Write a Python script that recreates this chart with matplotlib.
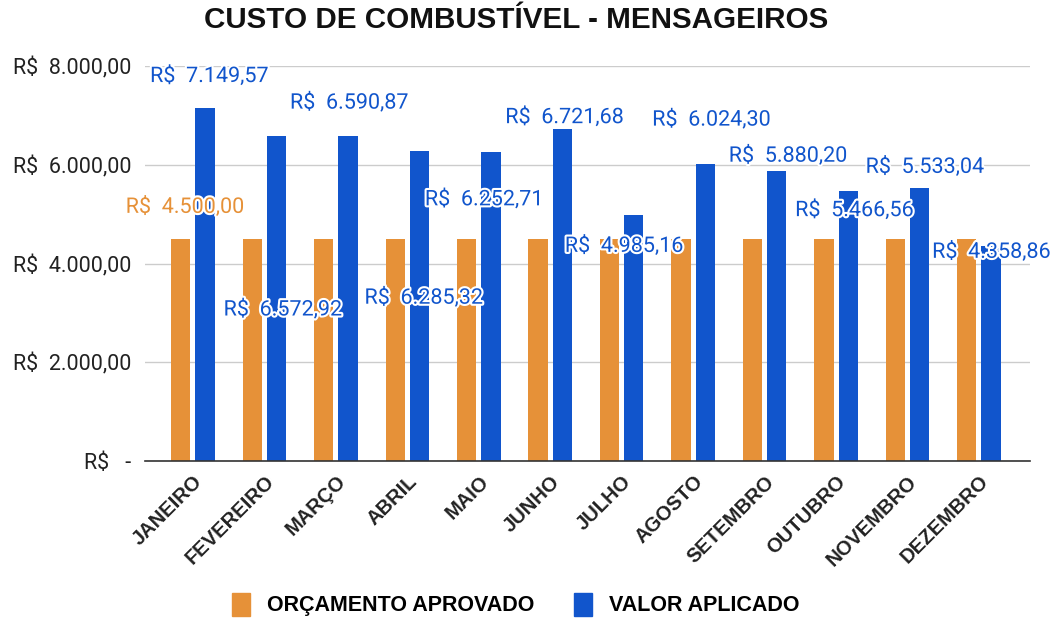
import numpy as np
import matplotlib.pyplot as plt
import matplotlib.patheffects as pe
from matplotlib.ticker import FuncFormatter
from matplotlib.patches import Patch

# Data
meses = ["JANEIRO", "FEVEREIRO", "MARÇO", "ABRIL", "MAIO", "JUNHO",
         "JULHO", "AGOSTO", "SETEMBRO", "OUTUBRO", "NOVEMBRO", "DEZEMBRO"]
orcamento = [4500.00] * 12
aplicado = [7149.57, 6572.92, 6590.87, 6285.32, 6252.71, 6721.68,
            4985.16, 6024.30, 5880.20, 5466.56, 5533.04, 4358.86]

# where each blue label sits relative to its bar top (pixels)
label_offsets = [(4, 32), (6, -173), (1, 33), (4, -147), (-7, -47), (2, 12),
                 (-10, -31), (6, 44), (11, 15), (6, -19), (5, 21), (0, -6)]

ORANGE = "#E69138"
BLUE = "#1155CC"


def brl(v, pos=None):
    if v == 0:
        return "R$   -"
    s = f"{v:,.2f}".replace(",", "X").replace(".", ",").replace("X", ".")
    return f"R$  {s}"


fig = plt.figure(figsize=(10.59, 6.2), dpi=100)
ax = fig.add_axes([0.137, 0.2565, 0.836, 0.637])

x = np.arange(len(meses))
w = 0.27
off = 0.17
ax.bar(x - off, orcamento, w, color=ORANGE, zorder=3)
ax.bar(x + off, aplicado, w, color=BLUE, zorder=3)

halo = [pe.withStroke(linewidth=3, foreground="white")]
for i, v in enumerate(aplicado):
    dx, dy = label_offsets[i]
    ax.annotate(brl(v), (x[i] + off, v), xytext=(dx, dy), textcoords="offset pixels",
                ha="center", va="center", color=BLUE, fontsize=15.5,
                family="Roboto", path_effects=halo, zorder=5, annotation_clip=False)
ax.annotate(brl(orcamento[0]), (x[0] - off, orcamento[0]), xytext=(4, 32),
            textcoords="offset pixels", ha="center", va="center", color=ORANGE,
            fontsize=15.5, family="Roboto", path_effects=halo, zorder=5)

ax.set_xlim(-0.67, 11.72)
ax.set_ylim(0, 8000)
ax.set_yticks([0, 2000, 4000, 6000, 8000])
ax.yaxis.set_major_formatter(FuncFormatter(brl))
ax.tick_params(axis="y", length=0, pad=10, labelsize=15.5, labelcolor="#222222")
for lab in ax.get_yticklabels():
    lab.set_family("Roboto")
ax.grid(axis="y", color="#cccccc", linewidth=1, zorder=0)

ax.set_xticks(x)
ax.set_xticklabels(meses, rotation=45, ha="right", rotation_mode="anchor",
                   fontsize=14.5, fontweight="bold", family="Liberation Sans", color="#222222")
ax.tick_params(axis="x", length=0, pad=8)

for s in ["top", "right", "left"]:
    ax.spines[s].set_visible(False)
ax.spines["bottom"].set_color("#333333")
ax.spines["bottom"].set_linewidth(1.2)
ax.spines["bottom"].set_zorder(4)

fig.suptitle("CUSTO DE COMBUSTÍVEL - MENSAGEIROS", x=0.487, y=0.99,
             fontsize=21.3, fontweight="bold", family="Liberation Sans", color="#111111")

handles = [Patch(color=ORANGE, label="ORÇAMENTO APROVADO"),
           Patch(color=BLUE, label="VALOR APLICADO")]
fig.legend(handles=handles, loc="center", bbox_to_anchor=(0.487, 0.025), ncol=2,
           frameon=False, handlelength=0.85, handleheight=1.3, handletextpad=0.8,
           columnspacing=1.8, prop={"family": "Liberation Sans", "weight": "bold", "size": 15.5})

fig.savefig("out.png", dpi=100)
